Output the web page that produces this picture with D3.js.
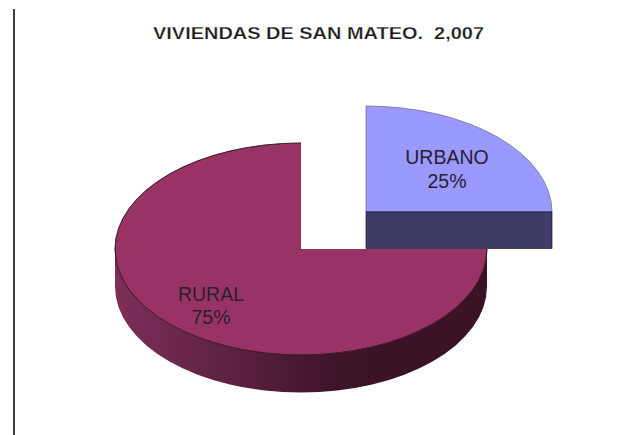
<!DOCTYPE html>
<html><head><meta charset="utf-8">
<script src="https://cdnjs.cloudflare.com/ajax/libs/d3/7.8.5/d3.min.js"></script>
<style>html,body{margin:0;background:#fff}svg{display:block}text{font-family:"Liberation Sans",Arial,sans-serif}</style>
</head><body><svg id="c" width="618" height="435"></svg>
<script>
const title = "VIVIENDAS DE SAN MATEO.  2,007";
const categories = ["URBANO","RURAL"];
const values = [25,75];
const topColors = ["#9999ff","#993366"];
const wallColors = ["#3e3c66"];
const wallRamp = ["#7d2f58","#5a2040","#3c1326","#3c1326"];

const rx=186, ry=106, depth=37.5, cx=301, cy=249, exX=65, exY=-37;
const svg=d3.select("#c");
svg.append("line").attr("x1",14).attr("x2",14).attr("y1",9).attr("y2",435).attr("stroke","#000").attr("stroke-width",1.5);
svg.append("text").attr("x",318.5).attr("y",39).attr("text-anchor","middle").attr("font-size",17).attr("font-weight","bold").attr("fill","#1a1a1a").attr("stroke","#fff").attr("stroke-width",.25).attr("textLength",331).attr("lengthAdjust","spacingAndGlyphs").style("white-space","pre").text(title);

const pie=d3.pie().sort(null).value(d=>d)(values);
const ramp=d3.scaleLinear().domain([0,.33,.62,1]).range(wallRamp);
const defs=svg.append("defs");
const g=defs.append("linearGradient").attr("id","wall").attr("x1",0).attr("x2",1).attr("y1",0).attr("y2",0);
d3.range(0,1.001,.1).forEach(t=>g.append("stop").attr("offset",t).attr("stop-color",ramp(t)));

const arc=d3.arc().innerRadius(0).outerRadius(rx);
const sy=ry/rx;
const ptTop=a=>[rx*Math.sin(a),-ry*Math.cos(a)];

const rural=pie[1], urban=pie[0];
const gR=svg.append("g").attr("transform",`translate(${cx},${cy})`);
const [xr,yr]=ptTop(rural.startAngle), [xl,yl]=ptTop(3*Math.PI/2);
const wallPath=`M${xr},${yr}A${rx},${ry} 0 0 1 ${xl},${yl}L${xl},${yl+depth}A${rx},${ry} 0 0 0 ${xr},${yr+depth}Z`;
gR.append("path").attr("d",wallPath).attr("fill","url(#wall)");
gR.append("g").attr("transform",`scale(1,${sy})`).append("path").attr("d",arc(rural)).attr("fill",topColors[1]);
// rim of the visible outer edge
const rim=d3.arc().innerRadius(rx).outerRadius(rx);
gR.append("g").attr("transform",`scale(1,${sy})`).append("path").attr("d",rim(rural)).attr("fill","none").attr("stroke","#2a0d1b").attr("stroke-width",.6).attr("vector-effect","non-scaling-stroke");

const gU=svg.append("g").attr("transform",`translate(${cx+exX},${cy+exY})`);
const [ux]=ptTop(urban.endAngle);
gU.append("rect").attr("x",0).attr("y",0).attr("width",ux).attr("height",depth-1).attr("fill",wallColors[0]).attr("stroke","#1c1b33").attr("stroke-width",.7);
gU.append("g").attr("transform",`scale(1,${sy})`).append("path").attr("d",arc(urban)).attr("fill",topColors[0]).attr("stroke","#6a6a86").attr("stroke-width",.7).attr("vector-effect","non-scaling-stroke");
gU.append("line").attr("x1",0).attr("x2",ux).attr("y1",0).attr("y2",0).attr("stroke","#1c1b33").attr("stroke-width",1);

const lab=[[447,164],[211,300.5]];
categories.forEach((c,i)=>{
  const t=svg.append("text").attr("text-anchor","middle").attr("font-size",19.5).attr("fill","#2a2030");
  t.append("tspan").attr("x",lab[i][0]).attr("y",lab[i][1]).text(c);
  t.append("tspan").attr("x",lab[i][0]).attr("y",lab[i][1]+23.5).text(values[i]+"%");
});
</script></body></html>
